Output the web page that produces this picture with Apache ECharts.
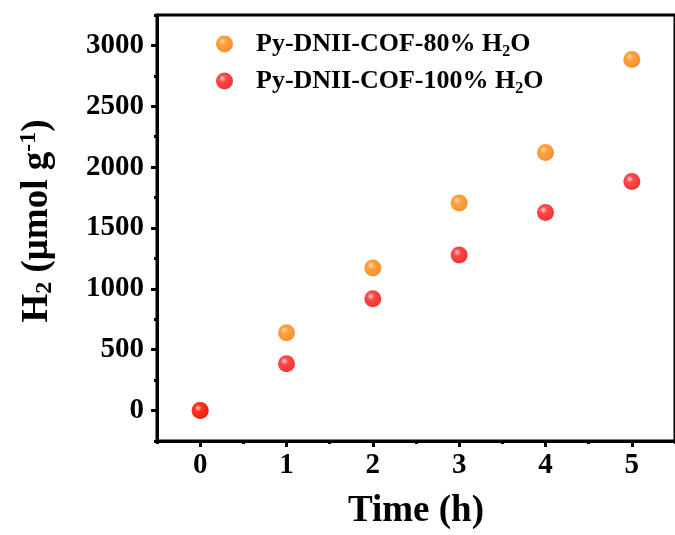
<!DOCTYPE html>
<html>
<head>
<meta charset="utf-8">
<script src="https://cdn.jsdelivr.net/npm/echarts@6/dist/echarts.min.js"></script>
<style>html,body{margin:0;padding:0;background:#fff}#c{width:675px;height:535px}</style>
</head>
<body>
<div id="c"></div>
<script>
var times = [0, 1, 2, 3, 4, 5];
var h2_80 = [0, 639, 1172, 1705, 2120, 2885];
var h2_100 = [0, 385, 918, 1279, 1627, 1882];
var yTickLabels = [0, 500, 1000, 1500, 2000, 2500, 3000];
var yMinorTicks = [-250, 250, 750, 1250, 1750, 2250, 2750, 3250];
var xTickLabels = [0, 1, 2, 3, 4, 5];
var xMinorTicks = [-0.5, 0.5, 1.5, 2.5, 3.5, 4.5, 5.5];
var seriesNames = ['Py-DNII-COF-80% H2O', 'Py-DNII-COF-100% H2O'];

var FONT = 'Liberation Serif';
function pairs(xs, ys) { return xs.map(function (x, i) { return [x, ys[i]]; }); }
function ball(c0, c1, c2) {
  return { type: 'radial', x: 0.38, y: 0.35, r: 0.7,
    colorStops: [{ offset: 0, color: c0 }, { offset: 0.3, color: c1 }, { offset: 1, color: c2 }] };
}
var chart = echarts.init(document.getElementById('c'), null, { renderer: 'canvas' });
var richSub = {
  a: { fontFamily: FONT, fontWeight: 'bold', fontSize: 26, color: '#000' },
  sub: { fontFamily: FONT, fontWeight: 'bold', fontSize: 16, color: '#000', verticalAlign: 'bottom', padding: [16, 0, 0, 0] }
};
chart.setOption({
  animation: false,
  backgroundColor: '#fff',
  grid: { left: 157, top: 15, right: -9, bottom: 93, show: true, borderColor: '#000', borderWidth: 3 },
  legend: {
    orient: 'vertical', left: 211, top: 26, itemGap: 8, itemWidth: 17, itemHeight: 17,
    icon: 'circle',
    data: seriesNames,
    formatter: function (n) {
      var parts = n.split('H2O');
      return '{a|' + parts[0] + 'H}{sub|2}{a|O}';
    },
    textStyle: { rich: richSub, padding: [0, 0, 0, 18] }
  },
  xAxis: [{
    type: 'value', min: -0.5, max: 5.5, position: 'bottom',
    name: 'Time (h)', nameLocation: 'middle', nameGap: 52,
    nameTextStyle: { fontFamily: FONT, fontWeight: 'bold', fontSize: 37, color: '#000' },
    axisLine: { show: true, onZero: false, lineStyle: { color: '#000', width: 3 } },
    axisTick: { show: true, inside: false, length: 6, customValues: xTickLabels, lineStyle: { color: '#000', width: 3 } },
    axisLabel: { customValues: xTickLabels, margin: 10, fontFamily: FONT, fontWeight: 'bold', fontSize: 29, color: '#000',
      formatter: function (v) { return String(v); } },
    splitLine: { show: false }
  }, {
    type: 'value', min: -0.5, max: 5.5, position: 'bottom',
    axisLine: { show: false, onZero: false },
    axisTick: { show: true, inside: false, length: 3, customValues: xMinorTicks, lineStyle: { color: '#000', width: 3 } },
    axisLabel: { show: false }, splitLine: { show: false }
  }],
  yAxis: [{
    type: 'value', min: -250, max: 3250, position: 'left',
    name: 'H{sub|2} (\u03bcmol g{sup|-1})', nameLocation: 'middle', nameGap: 100,
    nameTextStyle: {
      fontFamily: FONT, fontWeight: 'bold', fontSize: 37, color: '#000', padding: [0, 0, 0, 14],
      rich: {
        sub: { fontFamily: FONT, fontWeight: 'bold', fontSize: 24, color: '#000', padding: [16, 0, 0, 0] },
        sup: { fontFamily: FONT, fontWeight: 'bold', fontSize: 24, color: '#000', padding: [0, 0, 16, 0] }
      }
    },
    axisLine: { show: true, onZero: false, lineStyle: { color: '#000', width: 3 } },
    axisTick: { show: true, inside: false, length: 6, customValues: yTickLabels, lineStyle: { color: '#000', width: 3 } },
    axisLabel: { customValues: yTickLabels, margin: 13, fontFamily: FONT, fontWeight: 'bold', fontSize: 29, color: '#000',
      formatter: function (v) { return String(v); } },
    splitLine: { show: false }
  }, {
    type: 'value', min: -250, max: 3250, position: 'left',
    axisLine: { show: false, onZero: false },
    axisTick: { show: true, inside: false, length: 3, customValues: yMinorTicks, lineStyle: { color: '#000', width: 3 } },
    axisLabel: { show: false }, splitLine: { show: false }
  }],
  series: [{
    name: seriesNames[0], type: 'scatter', symbol: 'circle', symbolSize: 17,
    data: pairs(times, h2_80),
    itemStyle: { color: ball('#ffd3a0', '#ff8a0a', '#f07400') }
  }, {
    name: seriesNames[1], type: 'scatter', symbol: 'circle', symbolSize: 17,
    data: pairs(times, h2_100),
    itemStyle: { color: ball('#ffc8c8', '#ff1a1a', '#e60000') }
  }]
});
</script>
</body>
</html>
